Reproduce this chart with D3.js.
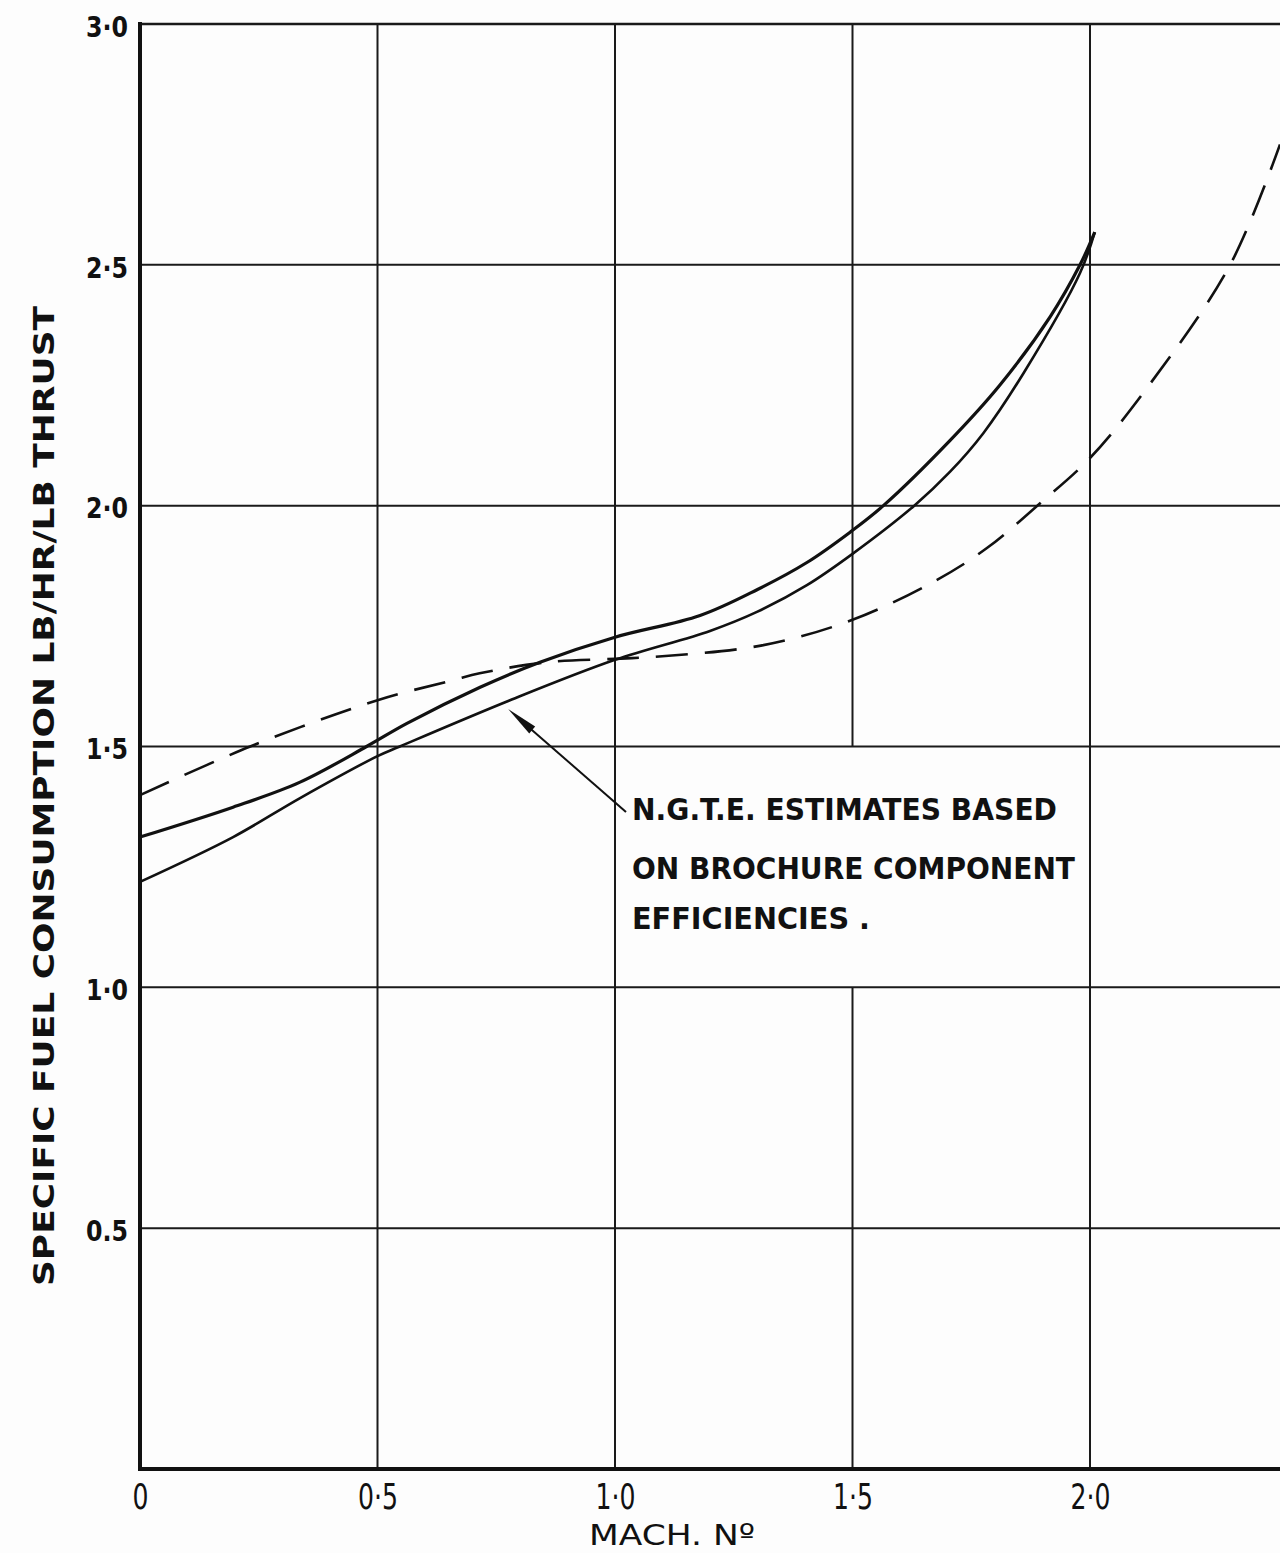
<!DOCTYPE html>
<html>
<head>
<meta charset="utf-8">
<script src="https://cdn.jsdelivr.net/npm/d3@7"></script>
<style>
body { margin: 0; background: #fdfdfd; }
svg { display: block; }
.grid { stroke: #1a1a1a; stroke-width: 2; }
.frame { stroke: #111; stroke-width: 4; stroke-linecap: square; }
.tick text { font-family: "DejaVu Sans", sans-serif; fill: #111; font-weight: bold; }
.label { font-family: "DejaVu Sans", sans-serif; fill: #111; font-weight: bold; }
</style>
</head>
<body>
<div id="plot"></div>
<script>

// Mach number readings (x) and sfc values for each curve
var upperMach = [0, 0.196, 0.337, 0.477, 0.562, 0.716, 0.842, 1.0, 1.179, 1.30, 1.404, 1.495, 1.565, 1.705, 1.81, 1.916, 1.979, 2.01];
var upperSfc  = [1.312, 1.374, 1.426, 1.5, 1.548, 1.623, 1.675, 1.727, 1.772, 1.826, 1.882, 1.945, 2.0, 2.135, 2.25, 2.392, 2.5, 2.568];

var lowerMach = [0, 0.196, 0.337, 0.5, 0.547, 0.779, 1.0, 1.2, 1.3, 1.404, 1.5, 1.63, 1.705, 1.775, 1.86, 1.979, 2.01];
var lowerSfc  = [1.219, 1.312, 1.393, 1.48, 1.5, 1.596, 1.68, 1.74, 1.78, 1.835, 1.90, 2.0, 2.07, 2.15, 2.275, 2.483, 2.568];

var dashMach = [0, 0.232, 0.5, 0.66, 0.715, 0.857, 1.0, 1.08, 1.31, 1.5, 1.678, 1.783, 1.895, 2.0, 2.122, 2.295, 2.4];
var dashSfc  = [1.399, 1.5, 1.596, 1.638, 1.652, 1.675, 1.682, 1.686, 1.71, 1.763, 1.846, 1.912, 2.005, 2.099, 2.247, 2.5, 2.75];

var xTicks = [0, 0.5, 1.0, 1.5, 2.0];
var xTickLabels = ["0", "0·5", "1·0", "1·5", "2·0"];
var yTicks = [0.5, 1.0, 1.5, 2.0, 2.5, 3.0];
var yTickLabels = ["0.5", "1·0", "1·5", "2·0", "2·5", "3·0"];

var noteLines = ["N.G.T.E.  ESTIMATES  BASED", "ON  BROCHURE  COMPONENT", "EFFICIENCIES ."];

var width = 1280, height = 1553;

var svg = d3.select('#plot')
  .append('svg')
  .attr('width', width)
  .attr('height', height);

var x = d3.scaleLinear().domain([0, 2.4]).range([140, 1280]);
var y = d3.scaleLinear().domain([0, 3.0]).range([1469, 24]);

// vertical grid lines - the 1.5 one is broken where the note sits
var vSegs = [];
xTicks.slice(1).forEach(function(v){
  if (v == 1.5) {
    vSegs.push([v, 1.5, 3.0]);
    vSegs.push([v, 0, 1.0]);
  } else {
    vSegs.push([v, 0, 3.0]);
  }
});

svg.selectAll('line.vgrid')
  .data(vSegs)
  .enter().append('line')
  .attr('class', 'grid vgrid')
  .attr('x1', function(d){ return x(d[0]); })
  .attr('x2', function(d){ return x(d[0]); })
  .attr('y1', function(d){ return y(d[1]); })
  .attr('y2', function(d){ return y(d[2]); });

svg.selectAll('line.hgrid')
  .data(yTicks.slice(0, 5))
  .enter().append('line')
  .attr('class', 'grid hgrid')
  .attr('x1', x(0))
  .attr('x2', x(2.4))
  .attr('y1', function(d){ return y(d); })
  .attr('y2', function(d){ return y(d); });

// top border
svg.append('line')
  .attr('class', 'grid')
  .style('stroke-width', 2.5)
  .attr('x1', x(0)).attr('x2', x(2.4))
  .attr('y1', y(3.0)).attr('y2', y(3.0));

// axes (labels only, the thick lines drawn after)
var xAxis = d3.axisBottom(x)
  .tickValues(xTicks)
  .tickFormat(function(d, i){ return xTickLabels[i]; })
  .tickSize(0);

var yAxis = d3.axisLeft(y)
  .tickValues(yTicks)
  .tickFormat(function(d, i){ return yTickLabels[i]; })
  .tickSize(0)
  .tickPadding(12);

var gx = svg.append('g')
  .attr('transform', 'translate(0,' + y(0) + ')')
  .call(xAxis);
gx.select('.domain').remove();
gx.selectAll('text')
  .attr('y', 40)
  .attr('dy', 0)
  .style('font-size', '36px')
  .style('font-weight', 'normal')
  .attr('textLength', function(d, i){ return i == 0 ? 16 : 40; })
  .attr('lengthAdjust', 'spacingAndGlyphs');

var gy = svg.append('g')
  .attr('transform', 'translate(' + x(0) + ',0)')
  .call(yAxis);
gy.select('.domain').remove();
gy.selectAll('text')
  .style('font-size', '29px')
  .attr('dy', '0.42em')
  .attr('textLength', 42)
  .attr('lengthAdjust', 'spacingAndGlyphs');

svg.append('line')
  .attr('class', 'frame')
  .attr('x1', x(0)).attr('x2', x(0))
  .attr('y1', y(3.0)).attr('y2', y(0));

svg.append('line')
  .attr('class', 'frame')
  .attr('x1', x(0)).attr('x2', x(2.4))
  .attr('y1', y(0)).attr('y2', y(0));

// curves
var lineGen = d3.line()
  .x(function(d){ return x(d[0]); })
  .y(function(d){ return y(d[1]); })
  .curve(d3.curveCatmullRom.alpha(0.5));

function pairs(a, b){
  return a.map(function(v, i){ return [v, b[i]]; });
}

svg.append('path')
  .datum(pairs(dashMach, dashSfc))
  .attr('d', lineGen)
  .attr('fill', 'none')
  .attr('stroke', '#111')
  .attr('stroke-width', 2.6)
  .attr('stroke-dasharray', '32,17');

svg.append('path')
  .datum(pairs(lowerMach, lowerSfc))
  .attr('d', lineGen)
  .attr('fill', 'none')
  .attr('stroke', '#111')
  .attr('stroke-width', 2.6);

svg.append('path')
  .datum(pairs(upperMach, upperSfc))
  .attr('d', lineGen)
  .attr('fill', 'none')
  .attr('stroke', '#111')
  .attr('stroke-width', 3.2);

// leader arrow to lower curve
var tip = [x(0.775), y(1.578)];
var tail = [626, 812];
svg.append('line')
  .attr('x1', tail[0]).attr('y1', tail[1])
  .attr('x2', tip[0] + 10).attr('y2', tip[1] + 9)
  .attr('stroke', '#111')
  .attr('stroke-width', 2);

var ang = Math.atan2(tail[1] - tip[1], tail[0] - tip[0]);
var hl = 32, hw = 4.5;
var bx = tip[0] + hl * Math.cos(ang), by = tip[1] + hl * Math.sin(ang);
svg.append('path')
  .attr('d', 'M' + tip[0] + ',' + tip[1] +
    'L' + (bx - hw * Math.sin(ang)) + ',' + (by + hw * Math.cos(ang)) +
    'L' + (bx + hw * Math.sin(ang)) + ',' + (by - hw * Math.cos(ang)) + 'Z')
  .attr('fill', '#111');

// note text
var noteLens = [425, 443, 238];
var noteBase = [820, 879, 929];
svg.selectAll('text.note')
  .data(noteLines)
  .enter().append('text')
  .attr('class', 'label note')
  .attr('x', 632)
  .attr('y', function(d, i){ return noteBase[i]; })
  .attr('textLength', function(d, i){ return noteLens[i]; })
  .attr('lengthAdjust', 'spacingAndGlyphs')
  .style('font-size', '30px')
  .text(function(d){ return d; });

// axis titles
svg.append('text')
  .attr('class', 'label')
  .attr('x', 589)
  .attr('y', 1545)
  .attr('textLength', 166)
  .attr('lengthAdjust', 'spacingAndGlyphs')
  .style('font-size', '29px')
  .style('font-weight', 'normal')
  .text('MACH. Nº');

svg.append('text')
  .attr('class', 'label')
  .attr('transform', 'translate(54,1286) rotate(-90)')
  .attr('x', 0)
  .attr('y', 0)
  .attr('textLength', 980)
  .attr('lengthAdjust', 'spacingAndGlyphs')
  .style('font-size', '28px')
  .text('SPECIFIC  FUEL  CONSUMPTION   LB/HR/LB  THRUST');

</script>
</body>
</html>
